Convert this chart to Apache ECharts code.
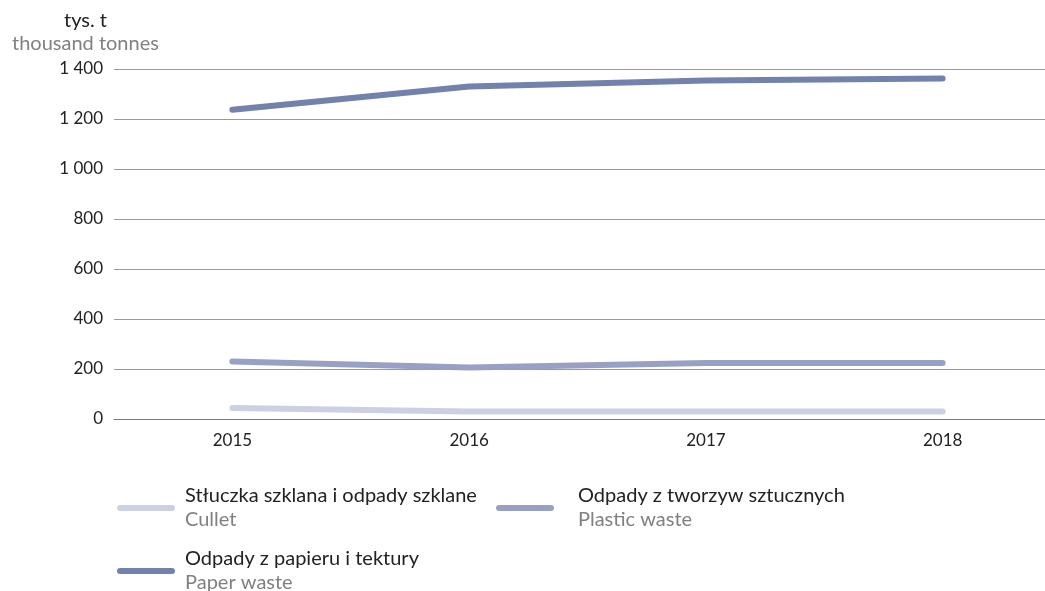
<!DOCTYPE html>
<html><head><meta charset="utf-8">
<script src="https://cdn.jsdelivr.net/npm/echarts@6/dist/echarts.min.js"></script>
<style>html,body{margin:0;padding:0;background:#fff}#c{width:1045px;height:591px}</style>
</head><body><div id="c"></div>
<script>
const years = ['2015','2016','2017','2018'];
const cullet = [44, 30, 30, 30];
const plastic = [230, 206, 224, 224];
const paper = [1237, 1330, 1354, 1362];
const namesPL = ['Stłuczka szklana i odpady szklane','Odpady z tworzyw sztucznych','Odpady z papieru i tektury'];
const namesEN = ['Cullet','Plastic waste','Paper waste'];
const unitPL = 'tys. t';
const unitEN = 'thousand tonnes';

const FONT = 'Lato';
const colors = ['#ccd0e4','#98a1c5','#7282ad'];
const pill = 'path://M3,0 L55,0 A3,3 0 0 1 55,6 L3,6 A3,3 0 0 1 3,0 Z';

function legendItem(i, left, top, gap){
  return {
    left: left, top: top, padding: 0, itemWidth: 58, itemHeight: 6, icon: pill,
    data: [{name: namesPL[i], itemStyle: {color: colors[i]}}],
    formatter: function(n){ const k = namesPL.indexOf(n); return '{a|' + n + '}\n{b|' + namesEN[k] + '}'; },
    selectedMode: false,
    textStyle: {padding: [0,0,0,gap], rich: {
      a: {fontFamily: FONT, fontSize: 20, color: '#222', lineHeight: 24},
      b: {fontFamily: FONT, fontSize: 20, color: '#808080', lineHeight: 24}
    }}
  };
}

const data = [cullet, plastic, paper];
const chart = echarts.init(document.getElementById('c'));
chart.setOption({
  animation: false,
  grid: {left: 114, width: 947, top: 69, bottom: 172, outerBoundsMode: 'none', containLabel: false},
  graphic: [
    {type: 'text', left: 64, top: 11, style: {text: unitPL, fontFamily: FONT, fontSize: 20, fill: '#222'}},
    {type: 'text', left: 12, top: 34, style: {text: unitEN, fontFamily: FONT, fontSize: 20, fill: '#808080'}}
  ],
  xAxis: {
    type: 'category', data: years, boundaryGap: true,
    axisTick: {show: false},
    axisLine: {lineStyle: {color: '#777', width: 1}},
    axisLabel: {fontFamily: FONT, fontSize: 17, color: '#222', margin: 13}
  },
  yAxis: {
    type: 'value', min: 0, max: 1400, interval: 200,
    axisLine: {show: false}, axisTick: {show: false},
    splitLine: {lineStyle: {color: '#9a9a9a', width: 1}},
    axisLabel: {fontFamily: FONT, fontSize: 17, color: '#222', margin: 11,
      formatter: function(v){ return v >= 1000 ? Math.floor(v/1000) + ' ' + String(v%1000).padStart(3,'0') : String(v); }}
  },
  legend: [legendItem(0, 117, 486, 5), legendItem(1, 496, 486, 19), legendItem(2, 117, 549, 5)],
  series: data.map(function(d, i){
    return {type: 'line', name: namesPL[i], data: d, symbol: 'none', smooth: false,
      itemStyle: {color: colors[i]},
      lineStyle: {color: colors[i], width: 6, cap: 'round', join: 'round'}};
  })
});
</script></body></html>
